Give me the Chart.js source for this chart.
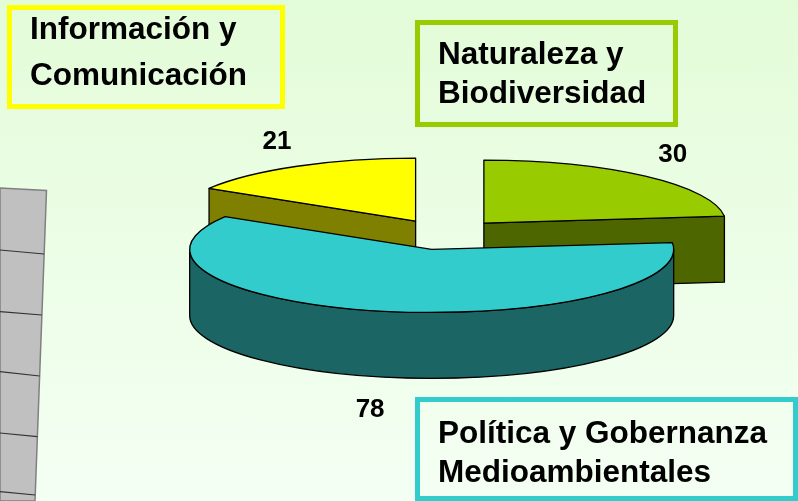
<!DOCTYPE html>
<html>
<head>
<meta charset="utf-8">
<script src="https://cdn.jsdelivr.net/npm/chart.js@4"></script>
<style>
  html, body { margin: 0; padding: 0; }
  body {
    width: 798px; height: 501px; overflow: hidden; position: relative;
    background: linear-gradient(to bottom, #e3fcd8 0%, #edfee8 55%, #f4fff3 100%);
    font-family: "Liberation Sans", Arial, sans-serif;
  }
  #myChart { position: absolute; left: 0; top: 0; }
  .box { position: absolute; box-sizing: border-box; border: 5px solid; }
  .txt { position: absolute; font-weight: bold; font-size: 31.5px; line-height: 35px; color: #000; white-space: nowrap; }
  #deco { position: absolute; left: 0; top: 0; }
</style>
</head>
<body>
<svg id="deco" width="60" height="501">
  <polygon points="0,188 46.5,190.5 35,501 0,501" fill="#c0c0c0" stroke="#808080" stroke-width="1.5"/>
  <g stroke="#333" stroke-width="1.2">
    <line x1="0" y1="250" x2="44.1" y2="254"/>
    <line x1="0" y1="311.7" x2="41.9" y2="315"/>
    <line x1="0" y1="371.7" x2="39.6" y2="376"/>
    <line x1="0" y1="433" x2="37.4" y2="436.7"/>
    <line x1="0" y1="491.7" x2="35.2" y2="495"/>
  </g>
</svg>
<canvas id="myChart" width="798" height="501"></canvas>

<div class="box" style="left:7px;top:5px;width:278px;height:104px;border-color:#ffff00"></div>
<div class="txt" style="left:30px;top:11px">Información y</div>
<div class="txt" style="left:30px;top:57px">Comunicación</div>

<div class="box" style="left:415px;top:20px;width:263px;height:107px;border-color:#99cc00"></div>
<div class="txt" style="left:438px;top:36px">Naturaleza y</div>
<div class="txt" style="left:438px;top:75px">Biodiversidad</div>

<div class="box" style="left:415px;top:397px;width:383px;height:104px;border-color:#33cccc"></div>
<div class="txt" style="left:438px;top:415px">Política y Gobernanza</div>
<div class="txt" style="left:438px;top:454px">Medioambientales</div>

<script>
const categories = ['Naturaleza y Biodiversidad', 'Política y Gobernanza Medioambientales', 'Información y Comunicación'];
const values = [30, 78, 21];
const topColors = ['#99cc00', '#33cccc', '#ffff00'];
const sideColors = ['#4d6600', '#1b6565', '#808000'];

// fake 3D: squash the pie vertically, add walls, explode slices
const pie3d = {
  id: 'pie3d',
  beforeDatasetsDraw(chart, args, opts) {
    const ctx = chart.ctx;
    const meta = chart.getDatasetMeta(0);
    const k = opts.tilt, depth = opts.depth, ex = opts.explode;

    const slices = meta.data.map((arc, i) => {
      const p = arc.getProps(['x', 'y', 'startAngle', 'endAngle', 'outerRadius']);
      const mid = (p.startAngle + p.endAngle) / 2;
      const dx = Math.cos(mid) * ex, dy = Math.sin(mid) * ex;
      return { arc, i, p, mid, dx, dy, cx: p.x + dx, cy: p.y + k * dy, R: p.outerRadius, r: p.outerRadius * k };
    });
    // back slices first
    const order = slices.slice().sort((a, b) => Math.sin(a.mid) - Math.sin(b.mid));

    ctx.save();
    ctx.lineWidth = 1.3;
    ctx.strokeStyle = '#000';
    ctx.lineJoin = 'round';

    order.forEach(s => {
      const { cx, cy, R, r, p } = s;
      ctx.fillStyle = sideColors[s.i];

      // radial walls
      const radial = (a) => {
        const ex2 = cx + R * Math.cos(a), ey2 = cy + r * Math.sin(a);
        ctx.beginPath();
        ctx.moveTo(cx, cy);
        ctx.lineTo(ex2, ey2);
        ctx.lineTo(ex2, ey2 + depth);
        ctx.lineTo(cx, cy + depth);
        ctx.closePath();
        ctx.fill();
        ctx.stroke();
      };
      if (Math.cos(p.startAngle) < -1e-6) radial(p.startAngle);
      if (Math.cos(p.endAngle) > 1e-6) radial(p.endAngle);

      // outer wall (front half only)
      const a = Math.max(p.startAngle, 0), b = Math.min(p.endAngle, Math.PI);
      if (b > a) {
        ctx.beginPath();
        ctx.ellipse(cx, cy, R, r, 0, a, b);
        ctx.lineTo(cx + R * Math.cos(b), cy + r * Math.sin(b) + depth);
        ctx.ellipse(cx, cy + depth, R, r, 0, b, a, true);
        ctx.closePath();
        ctx.fill();
        ctx.stroke();
      }

      // top face drawn by the arc element itself
      ctx.save();
      ctx.translate(0, p.y);
      ctx.scale(1, k);
      ctx.translate(s.dx, s.dy - p.y);
      s.arc.draw(ctx);
      ctx.restore();

      ctx.beginPath();
      ctx.moveTo(cx, cy);
      ctx.ellipse(cx, cy, R, r, 0, p.startAngle, p.endAngle);
      ctx.closePath();
      ctx.stroke();
    });

    // value labels
    ctx.fillStyle = '#000';
    ctx.font = 'bold 26px "Liberation Sans", Arial, sans-serif';
    ctx.textAlign = 'center';
    ctx.textBaseline = 'middle';
    slices.forEach(s => {
      const lx = s.cx + opts.labelX * s.R * Math.cos(s.mid);
      let ly = s.cy + opts.labelY * s.r * Math.sin(s.mid);
      if (Math.sin(s.mid) > 0) ly += depth + 5;
      ctx.fillText(String(values[s.i]), lx, ly);
    });
    ctx.restore();
    return false;
  }
};

const ctx = document.getElementById('myChart').getContext('2d');
const chart = new Chart(ctx, {
  type: 'pie',
  data: {
    labels: categories,
    datasets: [{
      data: values,
      backgroundColor: topColors,
      borderWidth: 0,
      radius: 242
    }]
  },
  options: {
    responsive: false,
    animation: false,
    events: [],
    layout: { padding: { left: 91, bottom: 32 } },
    plugins: {
      legend: { display: false },
      tooltip: { enabled: false },
      pie3d: { tilt: 0.26, depth: 66, explode: 59, labelX: 1.17, labelY: 1.45 }
    }
  },
  plugins: [pie3d]
});
</script>
</body>
</html>
